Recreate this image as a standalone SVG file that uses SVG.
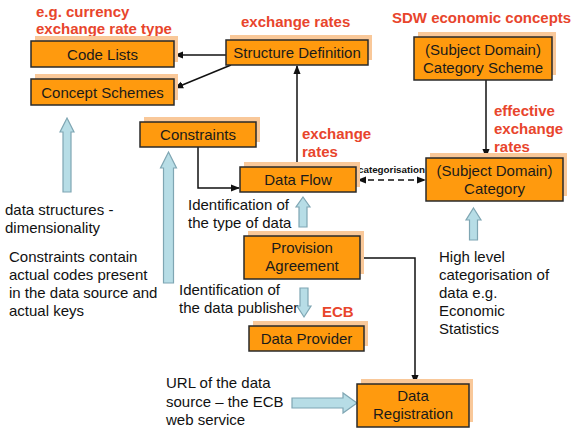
<svg xmlns="http://www.w3.org/2000/svg" width="575" height="436" viewBox="0 0 575 436">
<defs>
<style>
text{font-family:"Liberation Sans",Arial,sans-serif;}
.sh{fill:#F9C899;}
.bx{fill:#FF9A0E;stroke:#2a2a2a;stroke-width:1.5;}
.bt{font-size:15px;fill:#1a1a1a;text-anchor:middle;}
.rd{font-size:15px;font-weight:bold;fill:#E8452C;}
.nt{font-size:15px;fill:#111;}
.cn{stroke:#111;stroke-width:1.5;fill:none;}
.ba{fill:#B7DDE6;stroke:#7FA6B3;stroke-width:1.2;}
</style>
<marker id="ah" viewBox="0 0 10 10" refX="9" refY="5" markerWidth="6" markerHeight="6" orient="auto-start-reverse"><path d="M0,1 L10,5 L0,9 z" fill="#111"/></marker>
</defs>
<rect width="575" height="436" fill="#fff"/>

<g id="labels">
<text class="rd" x="36" y="17">e.g. currency</text>
<text class="rd" x="36" y="34">exchange rate type</text>
<text class="rd" x="241" y="27">exchange rates</text>
<text class="rd" x="392" y="23">SDW economic concepts</text>
<text class="rd" x="494" y="116">effective</text>
<text class="rd" x="494" y="134">exchange</text>
<text class="rd" x="494" y="152">rates</text>
<text class="rd" x="302" y="139">exchange</text>
<text class="rd" x="302" y="157">rates</text>
<text class="rd" x="322" y="317">ECB</text>
<text class="nt" x="5" y="215">data structures -</text>
<text class="nt" x="5" y="233">dimensionality</text>
<text class="nt" x="9" y="262">Constraints contain</text>
<text class="nt" x="9" y="280">actual codes present</text>
<text class="nt" x="9" y="298">in the data source and</text>
<text class="nt" x="9" y="316">actual keys</text>
<text class="nt" x="188" y="210">Identification of</text>
<text class="nt" x="188" y="228">the type of data</text>
<text class="nt" x="179" y="295">Identification of</text>
<text class="nt" x="179" y="313">the data publisher</text>
<text class="nt" x="166" y="388">URL of the data</text>
<text class="nt" x="166" y="407">source – the ECB</text>
<text class="nt" x="166" y="425">web service</text>
<text class="nt" x="439" y="262">High level</text>
<text class="nt" x="439" y="280">categorisation of</text>
<text class="nt" x="439" y="298">data e.g.</text>
<text class="nt" x="439" y="316">Economic</text>
<text class="nt" x="439" y="334">Statistics</text>
</g>

<g id="connectors">
<line class="cn" x1="226" y1="55" x2="175" y2="55" marker-end="url(#ah)"/>
<line class="cn" x1="231" y1="65" x2="175" y2="88" marker-end="url(#ah)"/>
<line class="cn" x1="297" y1="167" x2="297" y2="66" marker-end="url(#ah)"/>
<polyline class="cn" points="198,147 198,188 239,188" marker-end="url(#ah)"/>
<line class="cn" x1="486" y1="80" x2="486" y2="157" marker-end="url(#ah)"/>
<line class="cn" x1="358" y1="180" x2="425" y2="180" stroke-dasharray="6,4" marker-start="url(#ah)" marker-end="url(#ah)"/>
<text x="358" y="173" style="font-size:9.8px;font-weight:bold;fill:#111">categorisation</text>
<polyline class="cn" points="360,258 415,258 415,383" marker-end="url(#ah)"/>
<path class="ba" d="M67,118 L74,132 L71,132 L71,192 L63,192 L63,132 L60,132 Z"/>
<path class="ba" d="M168.5,152 L176.5,168 L173.5,168 L173.5,283 L163.5,283 L163.5,168 L160.5,168 Z"/>
<path class="ba" d="M303,197 L310,207 L307,207 L307,227 L299,227 L299,207 L296,207 Z"/>
<path class="ba" d="M304,317 L311,306 L308,306 L308,288 L300,288 L300,306 L297,306 Z"/>
<path class="ba" d="M473.5,208 L481,220 L477.5,220 L477.5,240 L469.5,240 L469.5,220 L466,220 Z"/>
<path class="ba" d="M357,403 L343,393 L343,398 L292,398 L292,408 L343,408 L343,413 Z"/>
</g>

<g id="code-lists"><rect class="sh" x="35" y="36" width="143" height="26"/><rect class="bx" x="31" y="41" width="143" height="26"/><text class="bt" x="102.5" y="59.5">Code Lists</text></g>
<g id="concept-schemes"><rect class="sh" x="35" y="74" width="143" height="26"/><rect class="bx" x="31" y="79" width="143" height="26"/><text class="bt" x="102.5" y="97.5">Concept Schemes</text></g>
<g id="structure-definition"><rect class="sh" x="230" y="35" width="142" height="25"/><rect class="bx" x="226" y="40" width="142" height="25"/><text class="bt" x="297" y="58">Structure Definition</text></g>
<g id="constraints"><rect class="sh" x="144" y="117" width="116" height="25"/><rect class="bx" x="140" y="122" width="116" height="25"/><text class="bt" x="198" y="140">Constraints</text></g>
<g id="category-scheme"><rect class="sh" x="418" y="32" width="138" height="43"/><rect class="bx" x="414" y="37" width="138" height="43"/><text class="bt" x="483" y="55">(Subject Domain)</text><text class="bt" x="483" y="73">Category Scheme</text></g>
<g id="category"><rect class="sh" x="430" y="153" width="137" height="43"/><rect class="bx" x="426" y="158" width="137" height="43"/><text class="bt" x="494.5" y="176">(Subject Domain)</text><text class="bt" x="494.5" y="194">Category</text></g>
<g id="data-flow"><rect class="sh" x="244" y="162" width="116" height="25"/><rect class="bx" x="240" y="167" width="116" height="25"/><text class="bt" x="298" y="185">Data Flow</text></g>
<g id="provision-agreement"><rect class="sh" x="248" y="231" width="116" height="43"/><rect class="bx" x="244" y="236" width="116" height="43"/><text class="bt" x="302" y="253">Provision</text><text class="bt" x="302" y="271">Agreement</text></g>
<g id="data-provider"><rect class="sh" x="253" y="321" width="115" height="25"/><rect class="bx" x="249" y="326" width="115" height="25"/><text class="bt" x="306.5" y="344">Data Provider</text></g>
<g id="data-registration"><rect class="sh" x="361" y="379" width="112" height="43"/><rect class="bx" x="357" y="384" width="112" height="43"/><text class="bt" x="413" y="401">Data</text><text class="bt" x="413" y="419">Registration</text></g>
</svg>
